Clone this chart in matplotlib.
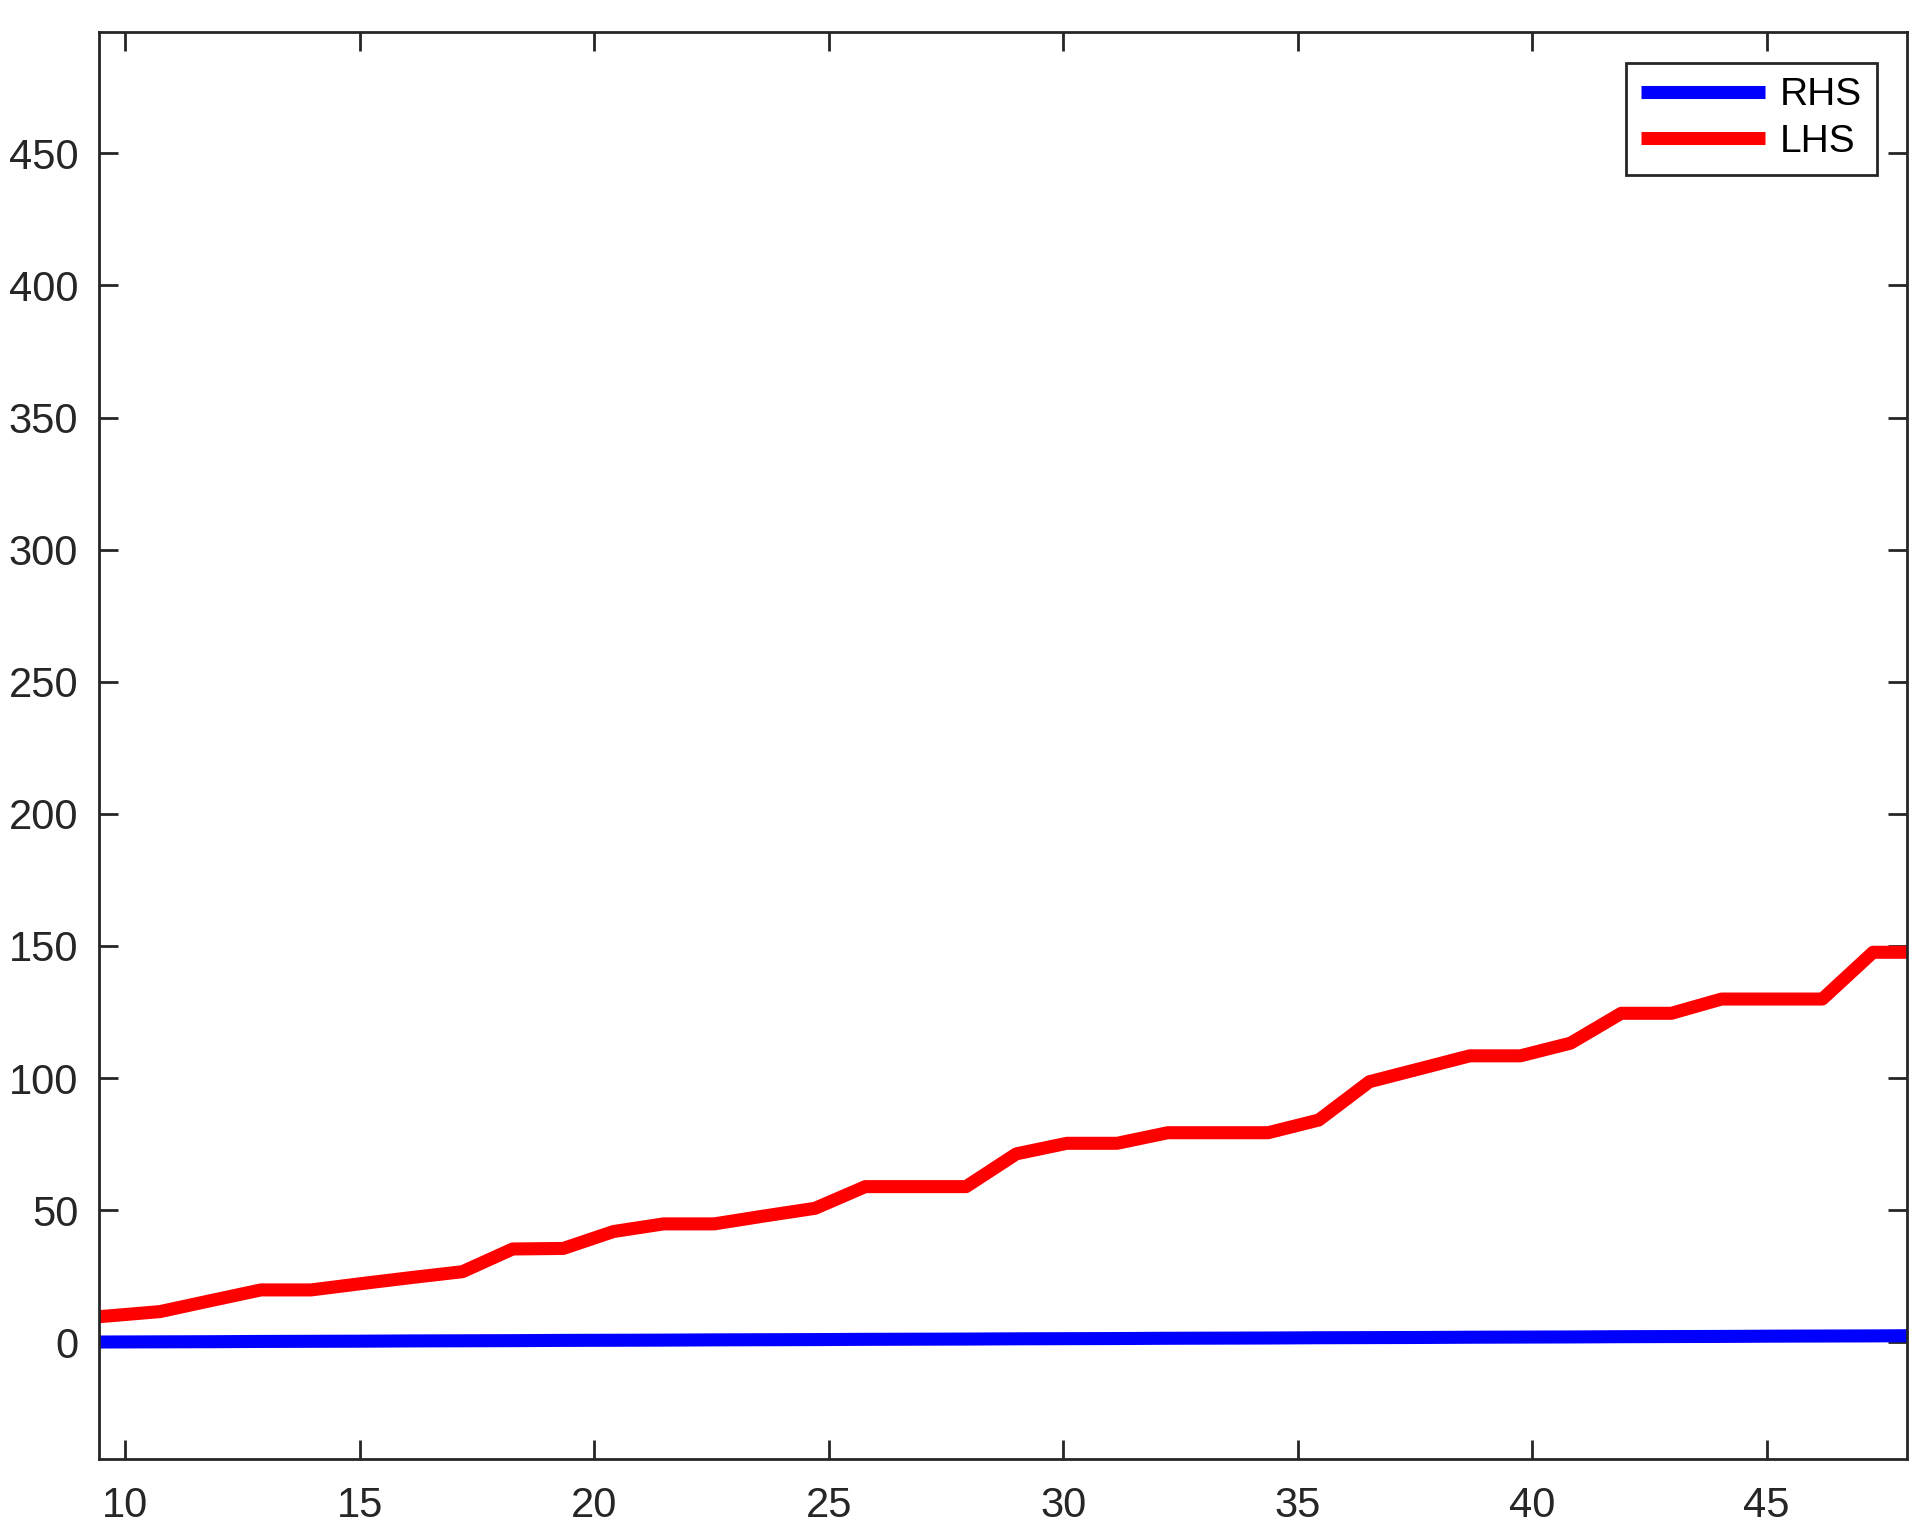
import matplotlib

matplotlib.use("Agg")
import matplotlib.pyplot as plt

plt.rcParams["font.family"] = ["Liberation Sans", "DejaVu Sans"]

AX_COLOR = "#262626"

# sample positions
x_vals = [8.59, 9.67, 10.74, 11.81, 12.89, 13.96, 15.04, 16.11, 17.19, 18.26,
          19.34, 20.41, 21.48, 22.56, 23.63, 24.71, 25.78, 26.86, 27.93, 29.00,
          30.08, 31.15, 32.23, 33.30, 34.37, 35.45, 36.53, 37.60, 38.67, 39.75,
          40.82, 41.90, 42.97, 44.04, 45.12, 46.19, 47.27, 48.34]

rhs_vals = [0.0, 0.1, 0.15, 0.2, 0.3, 0.35, 0.4, 0.5, 0.55, 0.6,
            0.7, 0.75, 0.8, 0.9, 0.95, 1.0, 1.1, 1.15, 1.2, 1.3,
            1.35, 1.4, 1.5, 1.55, 1.6, 1.7, 1.75, 1.8, 1.9, 1.95,
            2.0, 2.1, 2.15, 2.2, 2.3, 2.35, 2.4, 2.5]

lhs_vals = [8.5, 10.0, 11.6, 15.7, 19.8, 19.8, 22.2, 24.5, 26.7, 35.3,
            35.5, 41.9, 44.8, 44.8, 47.8, 50.7, 58.9, 58.9, 58.9, 71.3,
            75.3, 75.3, 79.3, 79.3, 79.3, 84.1, 98.6, 103.5, 108.4, 108.4,
            113.2, 124.5, 124.5, 129.9, 129.9, 129.9, 147.6, 147.6]

x_ticks = [10, 15, 20, 25, 30, 35, 40, 45]
y_ticks = [0, 50, 100, 150, 200, 250, 300, 350, 400, 450]

fig = plt.figure(figsize=(19.31, 15.39), dpi=100)
ax = fig.add_axes([0.0513, 0.0518, 0.9364, 0.9272])

ax.plot(x_vals, rhs_vals, color="#0000FF", lw=9.4, solid_capstyle="butt", label="RHS")
ax.plot(x_vals, lhs_vals, color="#FF0000", lw=9.4, solid_capstyle="butt", label="LHS")

ax.set_xlim(9.44, 48.0)
ax.set_ylim(-44.3, 495.8)
ax.set_xticks(x_ticks)
ax.set_yticks(y_ticks)

for side in ax.spines.values():
    side.set_color(AX_COLOR)
    side.set_linewidth(2.0)
ax.tick_params(direction="in", length=13.7, width=2.0, color=AX_COLOR,
               top=True, right=True, labelsize=30, labelcolor=AX_COLOR)
ax.tick_params(axis="x", pad=19)
ax.tick_params(axis="y", pad=15)

leg = ax.legend(loc="upper right", fontsize=28, handlelength=3.2,
                handletextpad=0.38, labelspacing=0.27, borderpad=0.38,
                borderaxespad=0.78, fancybox=False, framealpha=1.0)
leg.get_frame().set_edgecolor(AX_COLOR)
leg.get_frame().set_linewidth(2.0)

fig.savefig("out.png", dpi=100, facecolor="white")
